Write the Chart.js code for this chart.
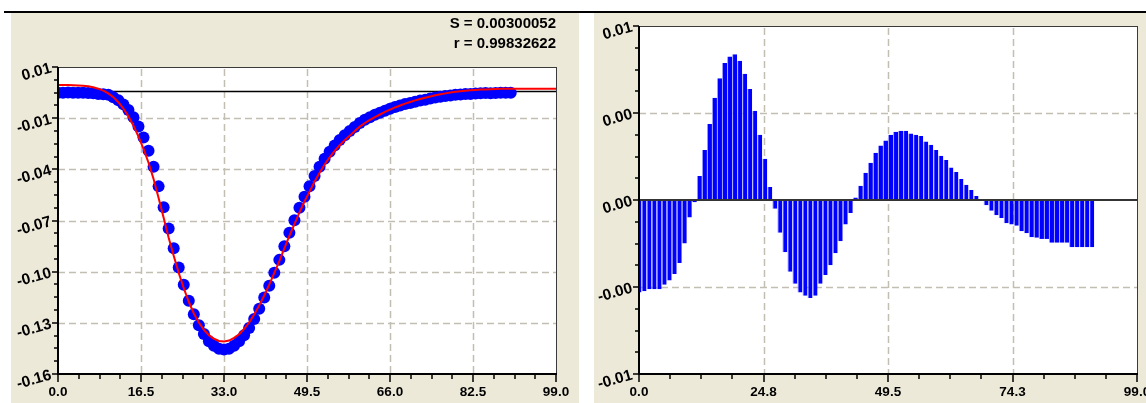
<!DOCTYPE html>
<html lang="en">
<head>
<meta charset="UTF-8">
<title>Fit and residuals</title>
<script src="https://cdn.jsdelivr.net/npm/chart.js"></script>
<style>
  body { margin: 0; background: #fff; width: 1146px; height: 403px; overflow: hidden; position: relative; }
  .topline { position: absolute; left: 4px; top: 11px; width: 1142px; height: 2px; background: #000; }
  .panel { position: absolute; top: 13px; height: 390px; background: #ece9d8; }
  #leftPanel { left: 11px; width: 568px; }
  #rightPanel { left: 594px; width: 552px; }
  canvas { position: absolute; left: 0; top: 0; }
</style>
</head>
<body>
<div class="topline"></div>
<div class="panel" id="leftPanel"><canvas id="fitChart" width="568" height="390"></canvas></div>
<div class="panel" id="rightPanel"><canvas id="residChart" width="552" height="390"></canvas></div>
<script>
// sample positions (x) of the measured points and of the fitted curve
const sampleX = [0,1,2,3,4,5,6,7,8,9,10,11,12,13,14,15,16,17,18,19,20,21,22,23,24,25,26,27,28,29,
  30,31,32,33,34,35,36,37,38,39,40,41,42,43,44,45,46,47,48,49,50,51,52,53,54,55,56,57,58,59,
  60,61,62,63,64,65,66,67,68,69,70,71,72,73,74,75,76,77,78,79,80,81,82,83,84,85,86,87,88,89,90];
const fitX = [0,1,2,3,4,5,6,7,8,9,10,11,12,13,14,15,16,17,18,19,20,21,22,23,24,25,26,27,28,29,
  30,31,32,33,34,35,36,37,38,39,40,41,42,43,44,45,46,47,48,49,50,51,52,53,54,55,56,57,58,59,
  60,61,62,63,64,65,66,67,68,69,70,71,72,73,74,75,76,77,78,79,80,81,82,83,84,85,86,87,88,89,
  90,91,92,93,94,95,96,97,98,99];

// measured values (blue points)
const observed = [-0.0008,-0.0007,-0.0006,-0.0007,-0.0008,-0.0008,-0.0009,-0.0011,-0.0014,-0.0016,
  -0.0019,-0.0033,-0.0049,-0.0072,-0.0103,-0.0143,-0.0194,-0.0255,-0.0329,-0.0418,
  -0.0526,-0.0642,-0.0759,-0.0869,-0.0975,-0.1071,-0.1159,-0.1234,-0.1295,-0.1344,
  -0.1383,-0.1409,-0.1425,-0.1429,-0.1425,-0.1409,-0.1384,-0.1350,-0.1310,-0.1260,
  -0.1204,-0.1141,-0.1076,-0.1004,-0.0933,-0.0858,-0.0783,-0.0713,-0.0645,-0.0583,
  -0.0525,-0.0469,-0.0418,-0.0373,-0.0334,-0.0300,-0.0269,-0.0243,-0.0220,-0.0197,
  -0.0175,-0.0157,-0.0143,-0.0130,-0.0118,-0.0107,-0.0096,-0.0087,-0.0078,-0.0070,
  -0.0064,-0.0057,-0.0050,-0.0046,-0.0039,-0.0034,-0.0030,-0.0026,-0.0023,-0.0019,
  -0.0017,-0.0014,-0.0014,-0.0012,-0.0010,-0.0009,-0.0010,-0.0009,-0.0008,-0.0008,
  -0.0007];

// fitted curve (red line)
const fitted = [0.0035,0.0035,0.0035,0.0034,0.0033,0.0031,0.0028,0.0023,0.0015,0.0004,
  -0.0011,-0.0032,-0.0060,-0.0095,-0.0138,-0.0190,-0.0250,-0.0318,-0.0395,-0.0485,
  -0.0590,-0.0700,-0.0810,-0.0910,-0.1005,-0.1090,-0.1165,-0.1230,-0.1280,-0.1320,
  -0.1350,-0.1370,-0.1382,-0.1385,-0.1380,-0.1365,-0.1345,-0.1315,-0.1280,-0.1235,
  -0.1185,-0.1130,-0.1070,-0.1005,-0.0940,-0.0870,-0.0800,-0.0735,-0.0670,-0.0610,
  -0.0555,-0.0500,-0.0450,-0.0405,-0.0365,-0.0330,-0.0298,-0.0270,-0.0245,-0.0220,
  -0.0195,-0.0175,-0.0158,-0.0143,-0.0128,-0.0114,-0.0101,-0.0089,-0.0078,-0.0068,
  -0.0059,-0.0050,-0.0042,-0.0035,-0.0028,-0.0022,-0.0016,-0.0011,-0.0006,-0.0002,
  0.0001,0.0004,0.0006,0.0008,0.0010,0.0011,0.0012,0.0013,0.0014,0.0014,
  0.0015,0.0015,0.0015,0.0015,0.0015,0.0015,0.0015,0.0015,0.0015,0.0015];

// residuals (blue bars, right chart)
const residuals = [-0.00425,-0.0042,-0.0041,-0.0041,-0.0041,-0.0039,-0.0037,-0.0034,-0.0029,-0.0020,
  -0.0008,-0.0001,0.0011,0.0023,0.0035,0.0047,0.0056,0.0063,0.0066,0.0067,
  0.0064,0.0058,0.0051,0.0041,0.0030,0.0019,0.0006,-0.0004,-0.0015,-0.0024,
  -0.0033,-0.00385,-0.00425,-0.0044,-0.0045,-0.0044,-0.00385,-0.00345,-0.0030,-0.00245,
  -0.0019,-0.00113,-0.0006,0.00012,0.00066,0.00125,0.00171,0.00217,0.00251,0.00274,
  0.0030,0.00314,0.00318,0.00318,0.00306,0.0030,0.00294,0.00269,0.00254,0.0023,
  0.00203,0.00184,0.0015,0.00129,0.00096,0.0007,0.00046,0.00018,0,-0.00024,
  -0.00049,-0.0007,-0.00083,-0.00107,-0.00113,-0.00118,-0.00144,-0.00153,-0.00171,-0.00174,
  -0.00179,-0.00179,-0.00197,-0.00197,-0.00197,-0.00197,-0.00217,-0.00217,-0.00217,-0.00217,
  -0.00217];

// axes
const fitXTicks = [0, 16.5, 33, 49.5, 66, 82.5, 99];
const fitXLabels = ['0.0', '16.5', '33.0', '49.5', '66.0', '82.5', '99.0'];
const fitYMin = -0.1565, fitYMax = 0.0135;
const fitYLabels = ['-0.16', '-0.13', '-0.10', '-0.07', '-0.04', '-0.01', '0.01'];
const residXTicks = [0, 24.75, 49.5, 74.25, 99];
const residXLabels = ['0.0', '24.8', '49.5', '74.3', '99.0'];
const residYMin = -0.008, residYMax = 0.008;
const residYLabels = ['-0.01', '-0.00', '0.00', '0.00', '0.01'];
const fitStats = ['S = 0.00300052', 'r = 0.99832622'];

const FONT = '"Liberation Sans", Arial, sans-serif';
const tickFont = { family: FONT, size: 13.5, weight: 'bold' };

function xAxis(ticks, labels) {
    return {
        type: 'linear', min: 0, max: 99, offset: false,
        grid: { display: false, drawTicks: false }, border: { display: false },
        afterBuildTicks: s => { s.ticks = ticks.map(v => ({ value: v })); },
        afterFit: s => { s.height = 29; s.paddingLeft = 0; s.paddingRight = 0; },
        ticks: { autoSkip: false, maxRotation: 0, minRotation: 0, padding: 10, color: '#000', font: tickFont,
                 callback: (v, i) => labels[i] }
    };
}

// y labels are drawn by the frame plugin (slanted like the original)
function yAxis(min, max, labels, width) {
    return {
        type: 'linear', min: min, max: max,
        grid: { display: false, drawTicks: false }, border: { display: false },
        afterBuildTicks: s => {
            const n = labels.length - 1;
            s.ticks = labels.map((l, i) => ({ value: min + (max - min) * i / n }));
        },
        afterFit: s => { s.width = width; s.paddingTop = 0; s.paddingBottom = 0; },
        ticks: { display: false, autoSkip: false }
    };
}

function line(ctx, x1, y1, x2, y2) {
    ctx.moveTo(x1, y1);
    ctx.lineTo(x2, y2);
}

// white plot, dashed grid, zero line, frame, minor ticks and y labels
function framePlugin(opts) {
    const drawZero = chart => {
        const { ctx, chartArea: a } = chart;
        const y0 = chart.scales.y.getPixelForValue(0);
        ctx.save();
        ctx.strokeStyle = opts.zeroColor;
        ctx.lineWidth = opts.zeroWidth;
        ctx.beginPath();
        line(ctx, a.left, y0, a.right, y0);
        ctx.stroke();
        ctx.restore();
    };
    return {
        id: 'frame',
        beforeDraw(chart) {
            const { ctx, chartArea: a } = chart;
            ctx.save();
            ctx.fillStyle = '#fff';
            ctx.fillRect(a.left, a.top, a.right - a.left, a.bottom - a.top);
            ctx.restore();
        },
        beforeDatasetsDraw(chart) {
            const { ctx, chartArea: a } = chart;
            const xs = chart.scales.x, ys = chart.scales.y;
            ctx.save();
            ctx.strokeStyle = '#c2beb2';
            ctx.lineWidth = 1.5;
            ctx.setLineDash([7, 4]);
            ctx.beginPath();
            xs.ticks.slice(1, -1).forEach(t => {
                const px = Math.round(xs.getPixelForValue(t.value)) + 0.5;
                line(ctx, px, a.top + 2, px, a.bottom);
            });
            ys.ticks.slice(1, -1).forEach(t => {
                if (Math.abs(t.value) < 1e-9) return;
                const py = Math.round(ys.getPixelForValue(t.value)) + 0.5;
                line(ctx, a.left, py, a.right, py);
            });
            ctx.stroke();
            ctx.restore();
            if (!opts.zeroOnTop) drawZero(chart);
        },
        afterDatasetsDraw(chart) {
            const { ctx, chartArea: a } = chart;
            const xs = chart.scales.x, ys = chart.scales.y;
            if (opts.zeroOnTop) drawZero(chart);
            ctx.save();
            // top and right border
            ctx.strokeStyle = '#3a3a3a';
            ctx.lineWidth = 1;
            ctx.beginPath();
            line(ctx, a.left, a.top + 0.5, a.right + 0.5, a.top + 0.5);
            line(ctx, a.right + 0.5, a.top, a.right + 0.5, a.bottom);
            ctx.stroke();
            // axes
            ctx.strokeStyle = '#000';
            ctx.lineWidth = 2;
            ctx.beginPath();
            line(ctx, a.left, a.top, a.left, a.bottom + 1);
            line(ctx, a.left - 1, a.bottom, a.right + 1, a.bottom);
            ctx.stroke();
            // tick marks, 3 minor ticks between majors
            ctx.lineWidth = 1.5;
            ctx.beginPath();
            const xt = xs.ticks.map(t => t.value);
            xt.forEach((v, i) => {
                const px = Math.round(xs.getPixelForValue(v));
                line(ctx, px, a.bottom, px, a.bottom + 8);
                if (i < xt.length - 1) {
                    for (let k = 1; k < 4; k++) {
                        const mx = Math.round(xs.getPixelForValue(v + (xt[i + 1] - v) * k / 4));
                        line(ctx, mx, a.bottom, mx, a.bottom + 5);
                    }
                }
            });
            const yt = ys.ticks.map(t => t.value);
            yt.forEach((v, i) => {
                const py = Math.round(ys.getPixelForValue(v));
                line(ctx, a.left - 6, py, a.left, py);
                if (i < yt.length - 1) {
                    for (let k = 1; k < 4; k++) {
                        const my = Math.round(ys.getPixelForValue(v + (yt[i + 1] - v) * k / 4));
                        line(ctx, a.left - 4, my, a.left, my);
                    }
                }
            });
            ctx.stroke();
            // slanted y tick labels
            ctx.fillStyle = '#000';
            ctx.font = 'bold 15.5px ' + FONT;
            ctx.textAlign = 'right';
            ctx.textBaseline = 'middle';
            yt.forEach((v, i) => {
                ctx.save();
                ctx.translate(a.left - 7, ys.getPixelForValue(v) + 1);
                ctx.rotate(-16 * Math.PI / 180);
                ctx.fillText(opts.yLabels[i], 0, 0);
                ctx.restore();
            });
            ctx.restore();
        },
        afterDraw(chart) {
            if (!opts.stats) return;
            const { ctx, chartArea: a } = chart;
            ctx.save();
            ctx.font = 'bold 15px ' + FONT;
            ctx.fillStyle = '#000';
            ctx.textAlign = 'right';
            ctx.textBaseline = 'middle';
            opts.stats.forEach((s, i) => ctx.fillText(s, a.right, 11 + i * 20));
            ctx.restore();
        }
    };
}

new Chart(document.getElementById('fitChart'), {
    type: 'line',
    data: {
        datasets: [{
            label: 'Fit',
            data: fitX.map((x, i) => ({ x: x, y: fitted[i] })),
            borderColor: '#ff0000',
            borderWidth: 2,
            pointRadius: 0,
            tension: 0,
            fill: false
        }, {
            label: 'Data',
            data: sampleX.map((x, i) => ({ x: x, y: observed[i] })),
            showLine: false,
            pointRadius: 6,
            pointBackgroundColor: '#0000ff',
            pointBorderWidth: 0,
            borderColor: '#0000ff'
        }]
    },
    options: {
        responsive: false,
        animation: false,
        devicePixelRatio: 1,
        layout: { padding: { top: 54, right: 23, left: 0, bottom: 0 } },
        plugins: { legend: { display: false }, tooltip: { enabled: false } },
        scales: {
            x: xAxis(fitXTicks, fitXLabels),
            y: yAxis(fitYMin, fitYMax, fitYLabels, 47)
        }
    },
    plugins: [framePlugin({ zeroColor: '#000', zeroWidth: 1.5, zeroOnTop: false, stats: fitStats, yLabels: fitYLabels })]
});

new Chart(document.getElementById('residChart'), {
    type: 'bar',
    data: {
        datasets: [{
            label: 'Residuals',
            data: sampleX.map((x, i) => ({ x: x, y: residuals[i] })),
            backgroundColor: '#0000ff',
            borderColor: '#9c9cff',
            borderWidth: { left: 1, right: 0, top: 0, bottom: 0 },
            borderSkipped: false,
            barThickness: 5,
            inflateAmount: 0
        }]
    },
    options: {
        responsive: false,
        animation: false,
        devicePixelRatio: 1,
        layout: { padding: { top: 13, right: 9, left: 0, bottom: 0 } },
        plugins: { legend: { display: false }, tooltip: { enabled: false } },
        scales: {
            x: xAxis(residXTicks, residXLabels),
            y: yAxis(residYMin, residYMax, residYLabels, 45)
        }
    },
    plugins: [framePlugin({ zeroColor: '#333', zeroWidth: 2, zeroOnTop: true, yLabels: residYLabels })]
});
</script>
</body>
</html>
